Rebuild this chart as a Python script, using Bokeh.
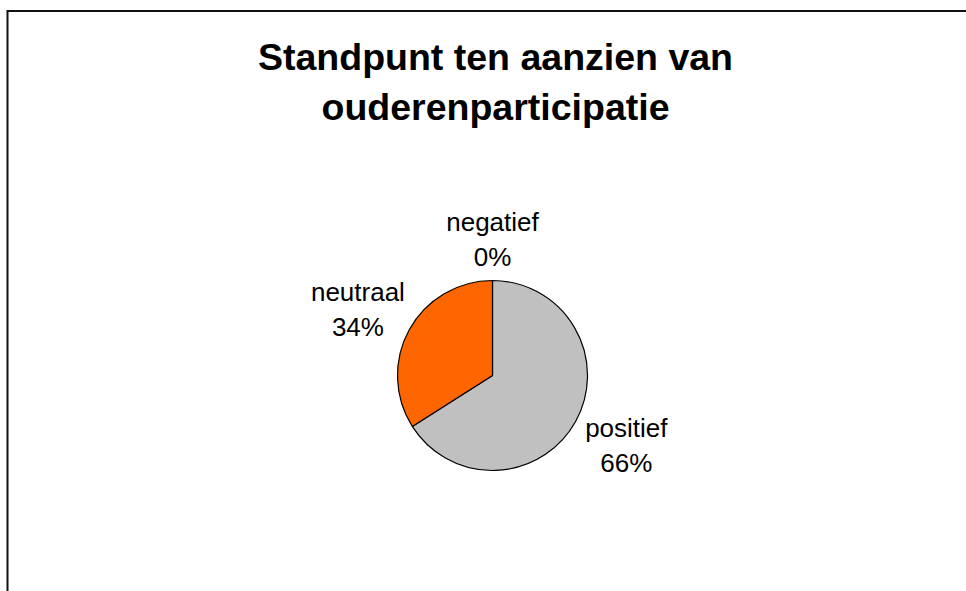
import math
from bokeh.plotting import figure
from bokeh.models import ColumnDataSource
from bokeh.core.properties import value
from bokeh.embed import file_html
from bokeh.resources import INLINE

# ---- data ----
categories = ["positief", "neutraal", "negatief"]
values = [66, 34, 0]
colors = ["#C0C0C0", "#FF6600", "#9999FF"]
title_lines = ["Standpunt ten aanzien van", "ouderenparticipatie"]

# ---- layout (pixels; data units == pixels) ----
W, H = 966, 591
cx, cy, R = 492, 216, 95
label_radius = [151, 150, 136]
label_nudge_deg = [1.2, 2.6, 0.0]
FONT = "Liberation Sans"
LABEL_FIX = 9    # compensate renderer baseline offset
TITLE_FIX = 10

p = figure(width=W, height=H, x_range=(0, W), y_range=(0, H),
           output_backend="svg", toolbar_location=None,
           min_border=0, outline_line_color=None,
           background_fill_color="white", border_fill_color="white")
p.axis.visible = False
p.grid.visible = False

# wedges, starting at 12 o'clock, clockwise
total = float(sum(values))
starts, ends, mids = [], [], []
a = math.pi / 2
for v in values:
    sweep = 2 * math.pi * v / total
    starts.append(a)
    ends.append(a - sweep)
    mids.append(a - sweep / 2)
    a -= sweep

keep = [i for i, v in enumerate(values) if v > 0]
src = ColumnDataSource(dict(cat=[categories[i] for i in keep],
                            start=[starts[i] for i in keep],
                            end=[ends[i] for i in keep],
                            color=[colors[i] for i in keep],
                            x=[cx] * len(keep), y=[cy] * len(keep)))
p.wedge(x="x", y="y", radius=R, start_angle="start", end_angle="end",
        direction="clock", fill_color="color", line_color="black",
        line_width=1.2, source=src)

# data labels
lx, ly1, ly2, names, pcts = [], [], [], [], []
for c, v, m, r, n in zip(categories, values, mids, label_radius, label_nudge_deg):
    ang = m + math.radians(n)
    x0 = cx + r * math.cos(ang)
    y0 = cy + r * math.sin(ang)
    lx.append(x0)
    ly1.append(y0 + 8.25 + LABEL_FIX)
    ly2.append(y0 - 26.25 + LABEL_FIX)
    names.append(c)
    pcts.append(f"{v}%")
lab = ColumnDataSource(dict(x=lx, y1=ly1, y2=ly2, name=names, pct=pcts))
for col, ycol in (("name", "y1"), ("pct", "y2")):
    p.text(x="x", y=ycol, text=col, source=lab, text_align="center",
           text_baseline="alphabetic", text_font=value(FONT),
           text_font_size="26px", text_color="black")

# title
tsrc = ColumnDataSource(dict(x=[495, 495], y=[525 + TITLE_FIX, 475 + TITLE_FIX],
                             t=title_lines))
p.text(x="x", y="y", text="t", source=tsrc, text_align="center",
       text_baseline="alphabetic", text_font=value(FONT),
       text_font_size="37.5px", text_font_style="bold", text_color="black")

# chart-area border (top and left edges visible in the crop)
p.line(x=[7, W], y=[580.5, 580.5], line_color="#111111", line_width=2)
p.line(x=[7, 7], y=[0, 581.5], line_color="#111111", line_width=2)

open("out.html", "w").write(file_html(p, INLINE))
